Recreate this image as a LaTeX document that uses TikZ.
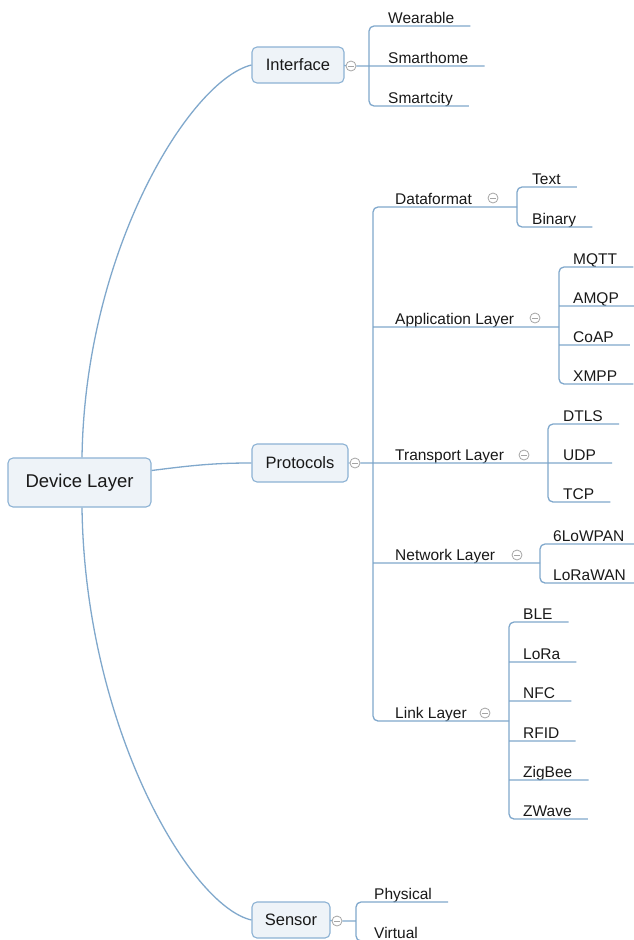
\documentclass[tikz,border=0pt]{standalone}
\usepackage{fontspec}
\setmainfont{Liberation Sans}
\definecolor{linec}{RGB}{128,168,204}
\definecolor{boxfill}{RGB}{238,243,248}
\definecolor{boxdraw}{RGB}{140,178,212}
\definecolor{txt}{RGB}{25,25,25}
\definecolor{cgray}{RGB}{165,165,165}
\newcommand\leafat[4]{\node[leaf] (#1) at (#3,#4-3) {#2};}
\newcommand\ulend[1]{([xshift=16pt,yshift=-3pt]#1.base east)}
\begin{document}
\begin{tikzpicture}[x=1pt,y=-1pt,
  ln/.style={draw=linec, line width=1.3pt},
  rootbox/.style={draw=boxdraw, fill=boxfill, line width=1.1pt, rounded corners=5pt,
     minimum width=143pt, minimum height=49pt, text=txt, font=\fontsize{18.5}{22}\selectfont, inner sep=0pt},
  topicbox/.style={draw=boxdraw, fill=boxfill, line width=1.1pt, rounded corners=5pt,
     minimum height=36pt, text=txt, font=\fontsize{16.5}{20}\selectfont, inner sep=0pt},
  leaf/.style={anchor=base west, inner sep=0pt, text=txt, font=\fontsize{15.5}{18}\selectfont},
  collapse/.style={circle, draw=cgray, line width=0.8pt, minimum size=10pt, inner sep=0pt,
     path picture={\draw[cgray, line width=0.8pt] ([xshift=-2.6pt]path picture bounding box.center) -- ([xshift=2.6pt]path picture bounding box.center);}}
]
\clip (0,0) rectangle (634,940);
\fill[white] (0,0) rectangle (634,940);

% ---- main nodes
\node[rootbox] (dl) at (79.5,482.5) {Device Layer};
\node[topicbox, minimum width=92pt] (if) at (298,65) {Interface};
\node[topicbox, minimum width=96pt, minimum height=38pt] (pr) at (300,463) {Protocols};
\node[topicbox, minimum width=78pt] (se) at (291,920) {Sensor};

% ---- collapse circles
\node[collapse] (cif) at (351,66) {};
\node[collapse] (cpr) at (355,463) {};
\node[collapse] (cse) at (337,921) {};

% ---- root connectors
\draw[ln] ([xshift=2.5pt]dl.north) .. controls (85,250) and (190,80) .. (if.west);
\draw[ln] ([xshift=2.5pt]dl.south) .. controls (85,727) and (190,906) .. (se.west);
\draw[ln] ([yshift=12pt]dl.east) .. controls (195,465) and (215,463) .. (pr.west);

% ---- Interface leaves
\leafat{wear}{Wearable}{388}{26}
\leafat{smh}{Smarthome}{388}{66}
\leafat{smc}{Smartcity}{388}{106}
\draw[ln, rounded corners=5pt] \ulend{wear} -- (369,26) -- (369,106) -- \ulend{smc}
  (369,66) -- \ulend{smh}
  (if.east) -- (cif.west) (cif.east) -- (369,66);

% ---- Protocols subtopics
\leafat{df}{Dataformat}{395}{207}
\leafat{al}{Application Layer}{395}{327}
\leafat{tl}{Transport Layer}{395}{463}
\leafat{nl}{Network Layer}{395}{563}
\leafat{ll}{Link Layer}{395}{721}
\node[collapse] (cdf) at (493,198) {};
\node[collapse] (cal) at (535,318) {};
\node[collapse] (ctl) at (524,455) {};
\node[collapse] (cnl) at (517,555) {};
\node[collapse] (cll) at (485,713) {};

\draw[ln, rounded corners=5pt] (517,207) -- (373,207) -- (373,721) -- (509,721)
  (373,327) -- (559,327)
  (373,463) -- (548,463)
  (373,563) -- (540,563)
  (pr.east) -- (cpr.west) (cpr.east) -- (373,463);

% ---- Dataformat leaves
\leafat{tx}{Text}{532}{187}
\leafat{bi}{Binary}{532}{227}
\draw[ln, rounded corners=5pt] \ulend{tx} -- (517,187) -- (517,227) -- \ulend{bi};

% ---- Application leaves
\leafat{mq}{MQTT}{573}{267}
\leafat{am}{AMQP}{573}{306}
\leafat{co}{CoAP}{573}{345}
\leafat{xm}{XMPP}{573}{384}
\draw[ln, rounded corners=5pt] \ulend{mq} -- (559,267) -- (559,384) -- \ulend{xm}
  (559,306) -- \ulend{am}
  (559,345) -- \ulend{co};

% ---- Transport leaves
\leafat{dt}{DTLS}{563}{424}
\leafat{ud}{UDP}{563}{463}
\leafat{tc}{TCP}{563}{502}
\draw[ln, rounded corners=5pt] \ulend{dt} -- (548,424) -- (548,502) -- \ulend{tc}
  (548,463) -- \ulend{ud};

% ---- Network leaves
\leafat{lw}{6LoWPAN}{553}{544}
\leafat{lr}{LoRaWAN}{553}{583}
\draw[ln, rounded corners=5pt] \ulend{lw} -- (540,544) -- (540,583) -- \ulend{lr};

% ---- Link leaves
\leafat{ble}{BLE}{523}{622}
\leafat{lora}{LoRa}{523}{662}
\leafat{nfc}{NFC}{523}{701}
\leafat{rfid}{RFID}{523}{741}
\leafat{zig}{ZigBee}{523}{780}
\leafat{zw}{ZWave}{523}{819}
\draw[ln, rounded corners=5pt] \ulend{ble} -- (509,622) -- (509,819) -- \ulend{zw}
  (509,662) -- \ulend{lora}
  (509,701) -- \ulend{nfc}
  (509,741) -- \ulend{rfid}
  (509,780) -- \ulend{zig};

% ---- Sensor leaves
\leafat{ph}{Physical}{374}{902}
\leafat{vi}{Virtual}{374}{941}
\draw[ln, rounded corners=5pt] \ulend{ph} -- (356,902) -- (356,941) -- \ulend{vi}
  (se.east) -- (cse.west) (cse.east) -- (356,921);
\end{tikzpicture}
\end{document}
